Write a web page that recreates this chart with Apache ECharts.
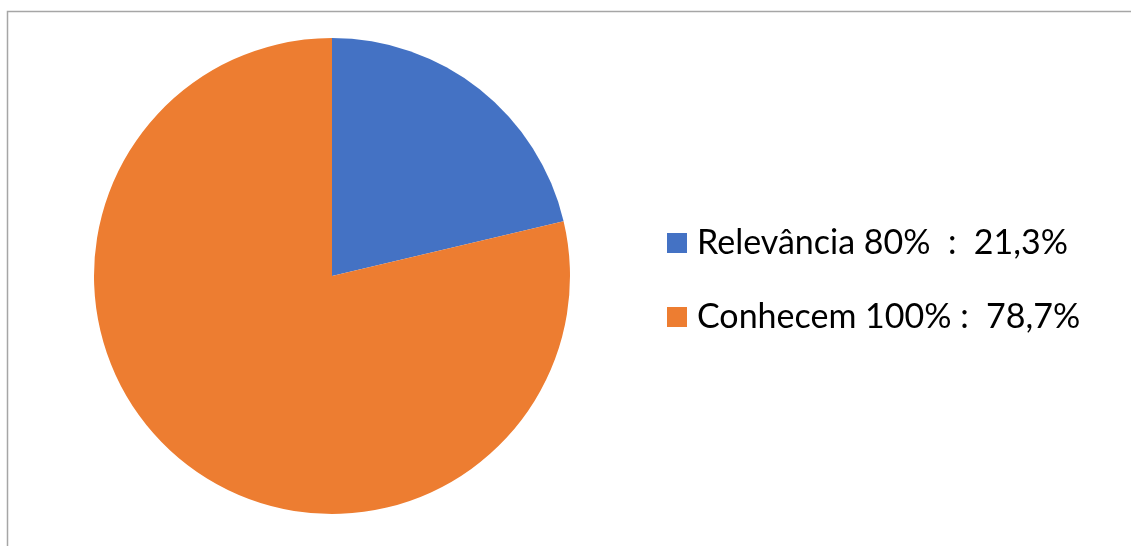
<!DOCTYPE html>
<html>
<head>
<meta charset="utf-8">
<script src="https://cdn.jsdelivr.net/npm/echarts@6/dist/echarts.min.js"></script>
<style>
html,body{margin:0;padding:0;background:#fff;}
#chart{width:1131px;height:546px;}
</style>
</head>
<body>
<div id="chart"></div>
<script>
const categories = ["Relevância 80% ", "Conhecem 100%"];
const values = [21.3, 78.7];
const colors = ["#4472C4", "#ED7D31"];

const chart = echarts.init(document.getElementById('chart'));
const data = categories.map((c, i) => ({ name: c, value: values[i], itemStyle: { color: colors[i] } }));
const fmt = v => v.toFixed(1).replace('.', ',') + '%';

chart.setOption({
  animation: false,
  graphic: [{
    type: 'rect',
    shape: { x: 7.5, y: 11.5, width: 1200, height: 600 },
    style: { fill: 'none', stroke: '#A6A6A6', lineWidth: 1.5 },
    silent: true
  }],
  legend: {
    orient: 'vertical',
    left: 662,
    top: 221,
    itemWidth: 20,
    itemHeight: 20,
    itemGap: 40,
    icon: 'rect',
    textStyle: {
      fontFamily: 'Lato',
      fontSize: 34,
      color: '#000',
      lineHeight: 30,
      padding: [0, 0, 0, 5]
    },
    formatter: name => {
      const i = categories.indexOf(name);
      return name + ' :  ' + fmt(values[i]);
    }
  },
  series: [{
    type: 'pie',
    center: [332, 276],
    radius: 238,
    startAngle: 90,
    clockwise: true,
    label: { show: false },
    labelLine: { show: false },
    itemStyle: { borderWidth: 0 },
    emphasis: { disabled: true },
    data: data
  }]
});
</script>
</body>
</html>
